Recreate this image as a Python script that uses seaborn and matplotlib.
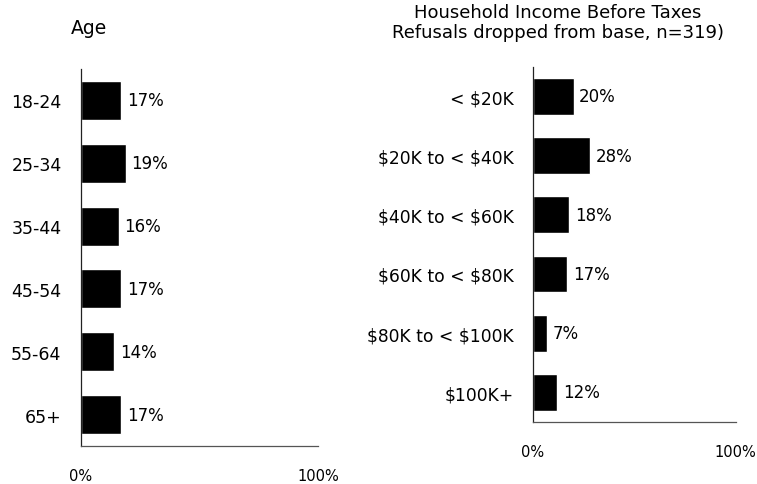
import matplotlib
matplotlib.use("Agg")
import matplotlib.pyplot as plt
import seaborn as sns
import pandas as pd
import numpy as np

age_cats = ["18-24", "25-34", "35-44", "45-54", "55-64", "65+"]
age_vals = [17, 19, 16, 17, 14, 17]
inc_cats = ["< $20K", "$20K to < $40K", "$40K to < $60K", "$60K to < $80K", "$80K to < $100K", "$100K+"]
inc_vals = [20, 28, 18, 17, 7, 12]
x_ticks = [0, 100]
x_ticklabels = ["0%", "100%"]

sns.set_style("white")
plt.rcParams['font.family'] = ['DejaVu Sans']
plt.rcParams['text.parse_math'] = False
plt.rcParams['text.color'] = 'black'
plt.rcParams['xtick.color'] = 'black'
plt.rcParams['ytick.color'] = 'black'
plt.rcParams['xtick.labelcolor'] = 'black'
plt.rcParams['ytick.labelcolor'] = 'black'

fig = plt.figure(figsize=(7.57, 4.85), dpi=100)
ax1 = fig.add_axes([0.107, 0.078, 0.313, 0.778])
ax2 = fig.add_axes([0.704, 0.128, 0.268, 0.732])

def draw(ax, cats, vals, fs):
    df = pd.DataFrame({"cat": cats, "val": vals})
    sns.barplot(data=df, y="cat", x="val", orient="h", color="black",
                width=0.62, ax=ax, saturation=1)
    ax.set_xlim(0, 100)
    ax.set_ylim(len(cats) - 0.5, -0.5)
    ax.set_xlabel("")
    ax.set_ylabel("")
    for s in ["top", "right"]:
        ax.spines[s].set_visible(False)
    ax.spines["left"].set_color("#222222")
    ax.spines["bottom"].set_color("#555555")
    ax.spines["left"].set_linewidth(0.9)
    ax.spines["bottom"].set_linewidth(0.9)
    ax.set_yticks(range(len(cats)))
    ax.set_yticklabels(cats, fontsize=fs)
    ax.tick_params(axis="y", length=0, pad=14)
    ax.set_yticks(np.arange(-0.5, len(cats), 1.0), minor=True)
    ax.tick_params(axis="y", which="minor", length=4, direction="out", color="#333333")
    ax.set_xticks(x_ticks)
    ax.set_xticklabels(x_ticklabels, fontsize=10.5)
    ax.tick_params(axis="x", length=4, direction="out", color="#555555", pad=12)
    for c in ax.containers:
        ax.bar_label(c, labels=[f"{v}%" for v in vals], padding=4, fontsize=12)
    ax.grid(False)

draw(ax1, age_cats, age_vals, 12.5)
draw(ax2, inc_cats, inc_vals, 12.3)

fig.text(89 / 757, 1 - 28 / 485, "Age", ha="center", va="center", fontsize=13.5)
fig.text(558 / 757, 1 - 23 / 485, "Household Income Before Taxes\nRefusals dropped from base, n=319)",
         ha="center", va="center", fontsize=13, linespacing=1.2)

fig.savefig("out.png", dpi=100, facecolor="white")
